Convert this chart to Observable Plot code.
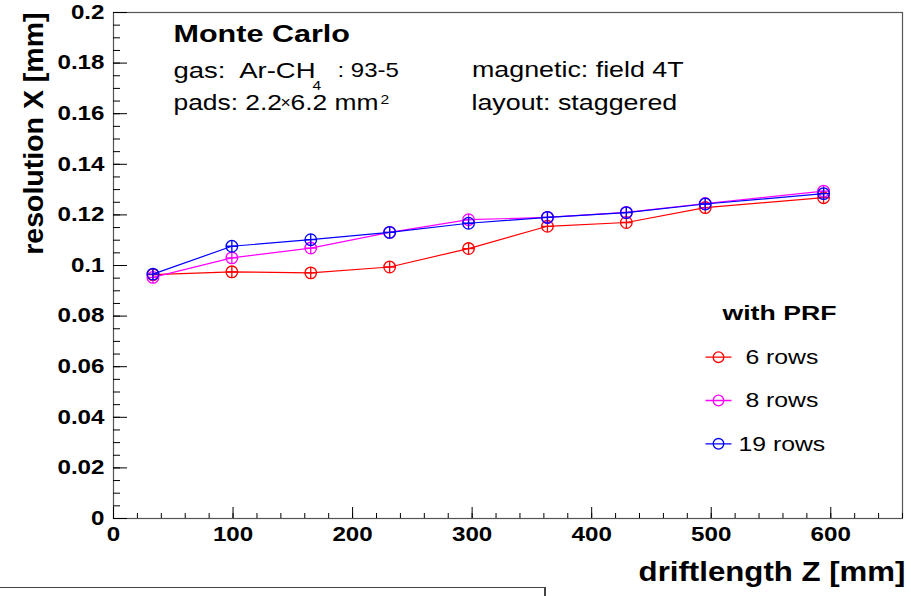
<!DOCTYPE html>
<html>
<head>
<meta charset="utf-8">
<script src="https://cdn.jsdelivr.net/npm/d3@7"></script>
<script src="https://cdn.jsdelivr.net/npm/@observablehq/plot@0.6"></script>
<style>
  html, body { margin: 0; padding: 0; background: #fff; overflow: hidden; }
  #wrap { position: relative; width: 911px; height: 596px; }
  #caption { position: absolute; left: -2px; top: 587px; width: 545px; height: 40px;
             border: 1.5px solid #444; border-right-width: 2px; background: #fff; }
</style>
</head>
<body>
<div id="wrap"></div>
<script>
// ---- data ----
const seriesNames = ["6 rows", "8 rows", "19 rows"];
const seriesColors = ["#ff0000", "#ff00ff", "#0000ff"];
const driftZ = [33, 99, 165, 231, 297, 363, 429, 495, 594];
const res6rows  = [0.0964, 0.0975, 0.0971, 0.0994, 0.1067, 0.1155, 0.1170, 0.1229, 0.1268];
const res8rows  = [0.0953, 0.1030, 0.1069, 0.1131, 0.1181, 0.1190, 0.1210, 0.1245, 0.1294];
const res19rows = [0.0966, 0.1076, 0.1102, 0.1131, 0.1167, 0.1190, 0.1209, 0.1243, 0.1284];
const xMajorTicks = [0, 100, 200, 300, 400, 500, 600];
const yMajorTicks = [0, 0.02, 0.04, 0.06, 0.08, 0.1, 0.12, 0.14, 0.16, 0.18, 0.2];
const xTitle = "driftlength Z [mm]";
const yTitle = "resolution X [mm]";
const legendTitle = "with PRF";

const allSeries = [res6rows, res8rows, res19rows];
const rows = seriesNames.flatMap((s, i) => driftZ.map((z, j) => ({series: s, z, res: allSeries[i][j]})));
const xMinorTicks = d3.range(0, 661, 20);
const yMinorTicks = d3.range(0, 41).map(i => i * 0.005);

// open circle with error-bar cross (ROOT style)
const crossCircle = {draw(ctx, size) {
  const r = Math.sqrt(size / Math.PI);
  ctx.moveTo(r, 0); ctx.arc(0, 0, r, 0, 2 * Math.PI);
  ctx.moveTo(-r, 0); ctx.lineTo(r, 0);
  ctx.moveTo(0, -r); ctx.lineTo(0, r);
}};
const legendSymbol = {draw(ctx, size) {
  const r = Math.sqrt(size / Math.PI);
  ctx.moveTo(r, 0); ctx.arc(0, 0, r, 0, 2 * Math.PI);
  ctx.moveTo(-2.45 * r, 0); ctx.lineTo(2.45 * r, 0);
}};

const FONT = "'Liberation Sans', Arial, Helvetica, sans-serif";

// annotation pieces (layout only)
const annotations = [
  {text: "Monte Carlo", dx: 60, dy: 21.5, size: 23.5, weight: "bold", k: 1.3},
  {text: "gas:\u00A0 Ar-CH", dx: 60, dy: 58, size: 22, weight: "normal", k: 1.25},
  {text: "4", dx: 199, dy: 73, size: 13, weight: "normal", k: 1.2},
  {text: ": 93-5", dx: 224, dy: 58, size: 20, weight: "normal", k: 1.2},
  {text: "pads: 2.2", dx: 60, dy: 90.5, size: 22, weight: "normal", k: 1.2},
  {text: "\u00D7", dx: 167, dy: 90, size: 16, weight: "normal", k: 1.1},
  {text: "6.2 mm", dx: 177, dy: 90.5, size: 22, weight: "normal", k: 1.2},
  {text: "2", dx: 267, dy: 87, size: 13, weight: "normal", k: 1.2},
  {text: "magnetic: field 4T", dx: 358.5, dy: 57, size: 22, weight: "normal", k: 1.22},
  {text: "layout: staggered", dx: 358, dy: 90, size: 22, weight: "normal", k: 1.22}
];

const marks = [
  Plot.frame({stroke: "#555", strokeWidth: 1.2}),
  // axes: inward ticks
  Plot.axisY(yMinorTicks, {tickSize: -7, fill: "none", label: null}),
  Plot.axisY(yMajorTicks, {tickSize: -14, tickPadding: 23, label: null, tickFormat: d => String(d),
    fontSize: 19.5, fontWeight: "bold"}),
  Plot.axisX(xMinorTicks, {tickSize: -5, fill: "none", label: null}),
  Plot.axisX(xMajorTicks, {tickSize: -11, tickPadding: 19, label: null, tickFormat: d => String(d),
    fontSize: 20.5, fontWeight: "bold"}),
  // axis titles
  Plot.text([xTitle], {frameAnchor: "bottom-right", text: d => d, dx: 3, dy: 54, textAnchor: "end",
    lineAnchor: "middle", fontSize: 27, fontWeight: "bold", ariaDescription: "stretch 1.156"}),
  Plot.text([yTitle], {frameAnchor: "top-left", text: d => d, dx: -71, dy: 0, rotate: -90,
    textAnchor: "end", lineAnchor: "bottom", fontSize: 28.5, fontWeight: "bold"})
];

// data series
seriesNames.forEach((s, i) => {
  const sub = rows.filter(d => d.series === s);
  marks.push(Plot.line(sub, {x: "z", y: "res", stroke: seriesColors[i], strokeWidth: 1.2}));
  marks.push(Plot.dot(sub, {x: "z", y: "res", symbol: crossCircle, r: 5.8, fill: "none",
    stroke: seriesColors[i], strokeWidth: 1.3}));
});

// annotations
annotations.forEach(a => {
  marks.push(Plot.text([a.text], {frameAnchor: "top-left", text: d => d, dx: a.dx, dy: a.dy,
    textAnchor: "start", lineAnchor: "middle", fontSize: a.size, fontWeight: a.weight,
    ariaDescription: "stretch " + a.k}));
});

// legend
marks.push(Plot.text([legendTitle], {frameAnchor: "top-left", text: d => d, dx: 609, dy: 301,
  textAnchor: "start", lineAnchor: "middle", fontSize: 20.5, fontWeight: "bold", ariaDescription: "stretch 1.3"}));
seriesNames.forEach((s, i) => {
  const dy = 344.7 + i * 43.3;
  marks.push(Plot.dot([s], {frameAnchor: "top-left", dx: 605, dy, symbol: legendSymbol, r: 5.3,
    fill: "none", stroke: seriesColors[i], strokeWidth: 1.3}));
  const shown = s.length < 7 ? "\u00A0" + s : s;
  marks.push(Plot.text([shown], {frameAnchor: "top-left", text: d => d, dx: 625, dy,
    textAnchor: "start", lineAnchor: "middle", fontSize: 21, ariaDescription: "stretch 1.18"}));
});

const chart = Plot.plot({
  width: 911,
  height: 596,
  marginLeft: 113,
  marginRight: 9,
  marginTop: 12,
  marginBottom: 78,
  x: {domain: [0, 660], label: null},
  y: {domain: [0, 0.2], label: null},
  style: {fontFamily: FONT, color: "black", background: "white", overflow: "visible"},
  marks
});

document.getElementById("wrap").appendChild(chart);
const cap = document.createElement("div");
cap.id = "caption";
document.getElementById("wrap").appendChild(cap);

// horizontal glyph stretch about each text's anchor (the reference glyphs are wider than tall)
function stretchText(t, k) {
  const tl = t.transform.baseVal;
  const m = tl.numberOfItems ? tl.consolidate().matrix : {a: 1, b: 0, c: 0, d: 1, e: 0, f: 0};
  if (Math.abs(m.b) > 1e-6) return;
  const x = parseFloat(t.getAttribute("x")) || 0;
  const ax = m.a * x + m.e;
  if (!isFinite(ax)) return;
  const g = document.createElementNS("http://www.w3.org/2000/svg", "g");
  g.setAttribute("transform", `translate(${ax},0) scale(${k},1) translate(${-ax},0)`);
  t.parentNode.insertBefore(g, t);
  g.appendChild(t);
}
const axisK = {"y-axis tick label": 1.24, "x-axis tick label": 1.18};
for (const [label, k] of Object.entries(axisK)) {
  chart.querySelectorAll(`g[aria-label="${label}"] text`).forEach(t => stretchText(t, k));
}
chart.querySelectorAll('g[aria-description^="stretch "]').forEach(g => {
  const k = +g.getAttribute("aria-description").slice(8);
  g.querySelectorAll("text").forEach(t => stretchText(t, k));
});
</script>
</body>
</html>
